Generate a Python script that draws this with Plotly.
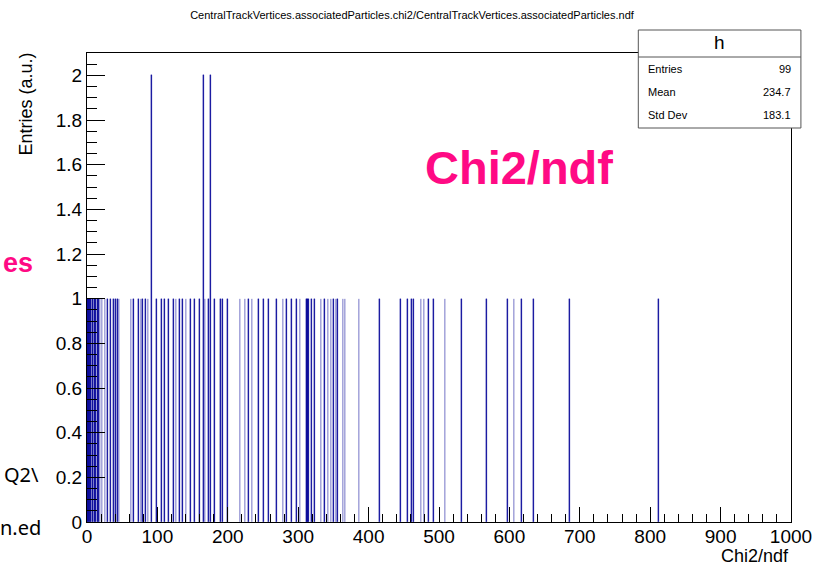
import plotly.graph_objects as go

# Bin lower edges (Chi2/ndf, 1-unit bins) and their counts
bin_edges = [0, 1, 2, 3, 4, 5, 7, 8, 10, 12, 14, 16, 18, 21,
             25, 29, 33, 37, 40, 43, 45,
             62, 66, 73, 76, 78, 83, 86, 91,
             98, 105, 110, 115, 122, 126, 131, 135, 140, 147, 152, 159,
             165, 167, 172, 175, 181, 189, 192, 199,
             217, 224, 229, 234, 243, 250, 257, 269, 278, 283, 290, 297,
             302, 311, 312, 313, 314, 318, 323, 332, 337, 342, 346, 350,
             353, 355, 363, 366, 386,
             415, 445, 455, 460, 463, 474, 478, 485, 492, 508, 531, 567,
             597, 606, 617, 634, 685, 811]
bin_counts = [1] * len(bin_edges)
for _e in (91, 165, 175):
    bin_counts[bin_edges.index(_e)] = 2

stats_labels = ["Entries", "Mean", "Std Dev"]
stats_values = ["99", "234.7", "183.1"]

title_text = "CentralTrackVertices.associatedParticles.chi2/CentralTrackVertices.associatedParticles.ndf"

W, H = 824, 566
L, R, T, B = 87, 797, 53, 522


def px(xp):
    return (xp - L) / (R - L)


def py(yp):
    return (B - yp) / (B - T)


FONT = "Liberation Sans, Arial, Helvetica, sans-serif"
PINK = "#ff0a84"

fig = go.Figure()
fig.add_trace(go.Bar(
    x=[e + 0.5 for e in bin_edges], y=bin_counts, width=1,
    marker=dict(color="#000099", line=dict(color="#000099", width=0.3)),
    showlegend=False, hoverinfo="x+y"))

fig.update_layout(
    width=W, height=H,
    margin=dict(l=L, r=W - R, t=T, b=H - B, pad=0),
    paper_bgcolor="white", plot_bgcolor="white",
    font=dict(family=FONT, color="black"),
    bargap=0,
    title=dict(text=title_text, x=0.5, xanchor="center", y=1 - 15 / H,
               yanchor="middle", font=dict(size=11, family=FONT)),
    xaxis=dict(range=[0, 1000], tickmode="linear", tick0=0, dtick=100,
               ticks="inside", ticklen=15, tickcolor="black", tickwidth=1,
               minor=dict(dtick=20, ticks="inside", ticklen=8, tickcolor="black"),
               showline=True, linecolor="black", linewidth=1, mirror=True,
               showgrid=False, zeroline=False, ticklabelstandoff=-3,
               tickfont=dict(size=19, family=FONT)),
    yaxis=dict(range=[0, 2.1], tickmode="linear", tick0=0, dtick=0.2,
               ticks="inside", ticklen=18, tickcolor="black", tickwidth=1,
               minor=dict(dtick=0.05, ticks="inside", ticklen=10, tickcolor="black"),
               showline=True, linecolor="black", linewidth=1, mirror=True,
               showgrid=False, zeroline=False,
               tickfont=dict(size=19, family=FONT)),
)

annotations = []
# y-axis title
annotations.append(dict(text="Entries (a.u.)", x=px(25), y=py(104), xref="paper", yref="paper",
                        textangle=-90, showarrow=False, xanchor="center", yanchor="middle",
                        font=dict(size=18, family=FONT)))
# x-axis title
annotations.append(dict(text="Chi2/ndf", x=1, y=py(556), xref="paper", yref="paper",
                        showarrow=False, xanchor="right", yanchor="middle",
                        font=dict(size=18, family=FONT)))
# Big pink label
annotations.append(dict(text="<b>Chi2/ndf</b>", x=px(523), y=py(167), xref="paper", yref="paper",
                        showarrow=False, xanchor="center", yanchor="middle",
                        font=dict(size=47, family=FONT, color=PINK)))
# slide remnants on the left
annotations.append(dict(text="<b>es</b>", x=px(0), y=py(263), xref="paper", yref="paper",
                        showarrow=False, xanchor="left", yanchor="middle",
                        font=dict(size=27, family=FONT, color=PINK)))
annotations.append(dict(text="Q2\\", x=px(41), y=py(474), xref="paper", yref="paper",
                        showarrow=False, xanchor="right", yanchor="middle",
                        font=dict(size=20, family="Noto Sans, sans-serif")))
annotations.append(dict(text="n.ed", x=px(43), y=py(527), xref="paper", yref="paper",
                        showarrow=False, xanchor="right", yanchor="middle",
                        font=dict(size=20, family="Noto Sans, sans-serif")))

# stats box
bx0, bx1, by0, by1, bdiv = 643, 807, 30, 128, 57
shapes = [
    dict(type="rect", xref="paper", yref="paper", x0=px(bx0), x1=px(bx1), y0=py(by1), y1=py(by0),
         line=dict(color="#555555", width=1), fillcolor="white", layer="above"),
    dict(type="line", xref="paper", yref="paper", x0=px(bx0), x1=px(bx1), y0=py(bdiv), y1=py(bdiv),
         line=dict(color="#555555", width=1), layer="above"),
]
annotations.append(dict(text="h", x=px((bx0 + bx1) / 2), y=py(43), xref="paper", yref="paper",
                        showarrow=False, xanchor="center", yanchor="middle",
                        font=dict(size=19, family=FONT)))
for i, (lab, val) in enumerate(zip(stats_labels, stats_values)):
    yy = 69 + i * 23
    annotations.append(dict(text=lab, x=px(651), y=py(yy), xref="paper", yref="paper",
                            showarrow=False, xanchor="left", yanchor="middle",
                            font=dict(size=11, family=FONT)))
    annotations.append(dict(text=val, x=px(799), y=py(yy), xref="paper", yref="paper",
                            showarrow=False, xanchor="right", yanchor="middle",
                            font=dict(size=11, family=FONT)))

fig.update_layout(annotations=annotations, shapes=shapes)
fig.write_html("out.html", config={"displayModeBar": False},
               post_script="document.body.style.margin='0';document.body.style.overflow='hidden';")
